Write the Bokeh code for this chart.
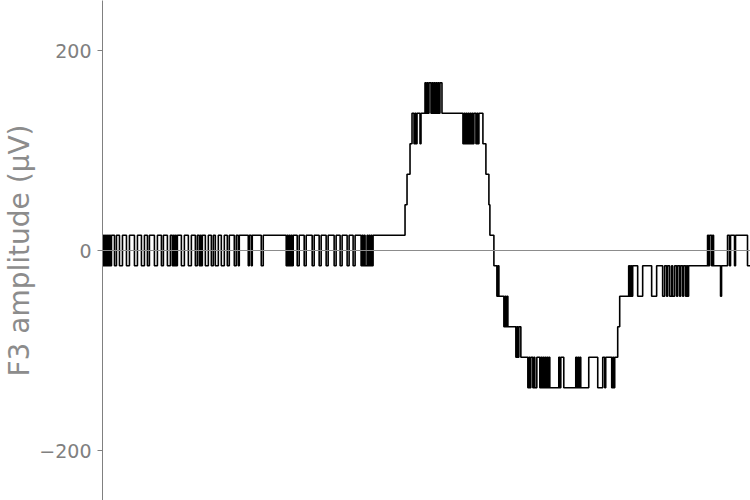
from bokeh.plotting import figure
from bokeh.models import Span, Range1d, FixedTicker
from bokeh.embed import file_html
from bokeh.resources import INLINE

# Quantised F3 trace as (time, amplitude) step changes
time_ms = [
    101, 102, 103, 104, 105, 106, 107, 108, 109, 110,
    113, 115, 118, 121, 125, 128, 133, 136, 140, 143, 146, 148, 153, 156, 160, 162,
    166, 169, 171, 172, 173, 174, 175, 176, 180, 183, 187, 190, 194, 196, 198, 199,
    200, 201, 204, 207, 210, 212, 214, 217, 220, 223, 226, 228, 233, 235, 237, 238,
    247, 248, 250, 251, 260, 262, 285, 286, 287, 288, 289, 290, 291, 292, 296, 298,
    303, 305, 311, 313, 318, 320, 325, 327, 333, 335, 339, 341, 346, 348, 352, 354,
    360, 361, 362, 363, 364, 366, 367, 368, 369, 370, 371, 372,
    404, 406, 409, 411, 413, 414, 415, 416, 419, 420,
    424, 425, 426, 427, 428, 430, 431, 432, 433, 434, 435, 436, 437, 438, 439, 441,
    462, 463, 464, 465, 466, 467, 468, 469, 470, 471, 472, 473, 475, 476, 477, 478,
    482, 485, 488, 489, 493, 496, 497, 498, 503, 504, 505, 506, 507,
    515, 516, 517, 518, 520,
    527, 528, 529, 530, 532, 533, 534, 536, 539, 540, 541, 542, 543, 544, 545, 546,
    547, 548, 549, 558, 559, 560, 563, 575, 576, 577, 578, 579, 580, 588, 597, 602,
    604, 605, 611, 612, 613, 614,
    617, 619,
    628, 629, 630, 631, 632, 637, 642, 651, 656, 662, 664, 666, 667, 669, 671, 672,
    674, 676, 677, 679, 680, 682, 683, 685, 686, 687, 688,
    707, 708, 709, 711, 712, 713, 720, 721, 727, 729, 730, 734, 735, 747, 750,
]

amp_uv = [
    -15.25, 15.25, -15.25, 15.25, -15.25, 15.25, -15.25, 15.25, -15.25, 15.25,
    -15.25, 15.25, -15.25, 15.25, -15.25, 15.25, -15.25, 15.25, -15.25, 15.25, -15.25, 15.25, -15.25, 15.25, -15.25, 15.25,
    -15.25, 15.25, -15.25, 15.25, -15.25, 15.25, -15.25, 15.25, -15.25, 15.25, -15.25, 15.25, -15.25, 15.25, -15.25, 15.25,
    -15.25, 15.25, -15.25, 15.25, -15.25, 15.25, -15.25, 15.25, -15.25, 15.25, -15.25, 15.25, -15.25, 15.25, -15.25, 15.25,
    -15.25, 15.25, -15.25, 15.25, -15.25, 15.25, -15.25, 15.25, -15.25, 15.25, -15.25, 15.25, -15.25, 15.25, -15.25, 15.25,
    -15.25, 15.25, -15.25, 15.25, -15.25, 15.25, -15.25, 15.25, -15.25, 15.25, -15.25, 15.25, -15.25, 15.25, -15.25, 15.25,
    -15.25, 15.25, -15.25, 15.25, -15.25, 15.25, -15.25, 15.25, -15.25, 15.25, -15.25, 15.25,
    45.75, 76.25, 106.75, 137.25, 106.75, 137.25, 106.75, 137.25, 106.75, 137.25,
    167.75, 137.25, 167.75, 137.25, 167.75, 137.25, 167.75, 137.25, 167.75, 137.25, 167.75, 137.25, 167.75, 137.25, 167.75, 137.25,
    106.75, 137.25, 106.75, 137.25, 106.75, 137.25, 106.75, 137.25, 106.75, 137.25, 106.75, 137.25, 106.75, 137.25, 106.75, 137.25,
    106.75, 76.25, 45.75, 15.25, -15.25, -45.75, -15.25, -45.75, -76.25, -45.75, -76.25, -45.75, -76.25,
    -106.75, -76.25, -106.75, -76.25, -106.75,
    -137.25, -106.75, -137.25, -106.75, -137.25, -106.75, -137.25, -106.75, -137.25, -106.75, -137.25, -106.75, -137.25, -106.75, -137.25, -106.75,
    -137.25, -106.75, -137.25, -106.75, -137.25, -106.75, -137.25, -106.75, -137.25, -106.75, -137.25, -106.75, -137.25, -106.75, -137.25, -106.75,
    -137.25, -106.75, -137.25, -106.75, -137.25, -106.75,
    -76.25, -45.75,
    -15.25, -45.75, -15.25, -45.75, -15.25, -45.75, -15.25, -45.75, -15.25, -45.75, -15.25, -45.75, -15.25, -45.75, -15.25, -45.75,
    -15.25, -45.75, -15.25, -45.75, -15.25, -45.75, -15.25, -45.75, -15.25, -45.75, -15.25,
    15.25, -15.25, 15.25, -15.25, 15.25, -15.25, -45.75, -15.25, 15.25, -15.25, 15.25, -15.25, 15.25, -15.25, -15.25,
]

y_ticks = [-200, 0, 200]
y_tick_labels = {-200: "\u2212200", 0: "0", 200: "200"}
y_label = "F3 amplitude (\u00b5V)"

p = figure(
    width=750, height=500,
    output_backend="svg", toolbar_location=None,
    x_range=Range1d(101, 750), y_range=Range1d(-250, 250),
    x_axis_location=None,
    min_border_left=101, min_border_right=0, min_border_top=0, min_border_bottom=0,
)
p.outline_line_color = None
p.grid.visible = False
p.background_fill_color = "white"

p.step(time_ms, amp_uv, mode="after", line_color="black", line_width=1.6)

zero = Span(location=0, dimension="width", line_color="#8c8c8c", line_width=1)
p.add_layout(zero)

ax = p.yaxis[0]
ax.ticker = FixedTicker(ticks=y_ticks)
ax.major_label_overrides = y_tick_labels
ax.axis_label = y_label
ax.axis_label_text_font = "DejaVu Sans"
ax.axis_label_text_font_style = "normal"
ax.axis_label_text_font_size = "28px"
ax.axis_label_text_color = "#8c8c8c"
ax.axis_label_standoff = 0
ax.major_label_text_font = "DejaVu Sans"
ax.major_label_text_font_size = "19px"
ax.major_label_text_color = "#808080"
ax.major_label_standoff = 6
ax.axis_line_color = "#808080"
ax.major_tick_line_color = "#808080"
ax.major_tick_out = 5
ax.major_tick_in = 0
ax.minor_tick_line_color = None

open("out.html", "w").write(file_html(p, INLINE))
